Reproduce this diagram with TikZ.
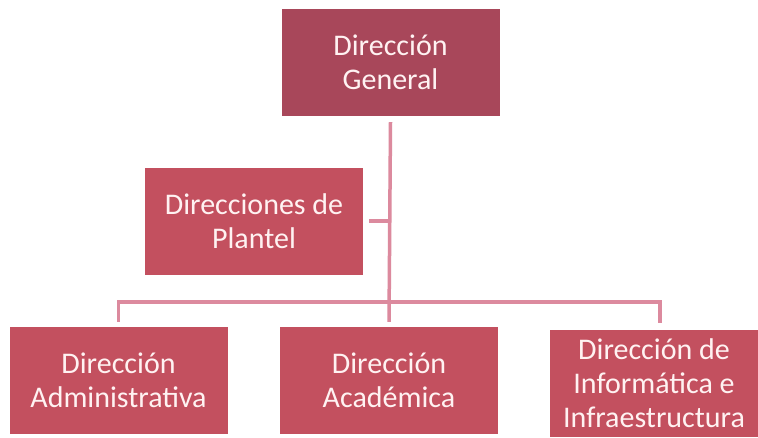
\documentclass[tikz,border=0pt]{standalone}
\usepackage{fontspec}
\setmainfont{Carlito}
\definecolor{boxdark}{HTML}{A8475A}
\definecolor{boxlight}{HTML}{C3505F}
\definecolor{linkpink}{HTML}{DC8A9E}
\definecolor{txtwhite}{HTML}{FFF2F2}
\tikzset{
  orgbox/.style={rectangle, fill=boxlight, draw=none, minimum width=218pt, minimum height=107pt,
    align=center, text=txtwhite, inner sep=0pt, font=\fontsize{30}{34}\selectfont},
  topbox/.style={orgbox, fill=boxdark},
  link/.style={draw=linkpink, line width=3.5pt}
}
\begin{document}
\begin{tikzpicture}[x=1pt,y=1pt]
\clip (0,0) rectangle (758,-437);
\fill[white] (0,0) rectangle (758,-437);
\node[topbox] (gen) at (390.5,-62.5) {Dirección\\General};
\node[orgbox] (plan) at (254,-221) {Direcciones de\\Plantel};
\node[orgbox] (adm) at (118.5,-380.5) {Dirección\\Administrativa};
\node[orgbox] (aca) at (389,-380.5) {Dirección\\Académica};
\node[orgbox, minimum width=208pt, minimum height=107pt] (inf) at (654,-383.5) {Dirección de\\Informática e\\Infraestructura};
\coordinate (bus) at (389,-302);
\draw[link] ([yshift=-6pt]gen.south) -- ([yshift=5pt]aca.north);
\draw[link] ([xshift=6pt]plan.east) -- (plan.east -| gen.south);
\draw[link] ([yshift=5pt]adm.north) |- (bus) -| ([xshift=6pt,yshift=7pt]inf.north);
\end{tikzpicture}
\end{document}
